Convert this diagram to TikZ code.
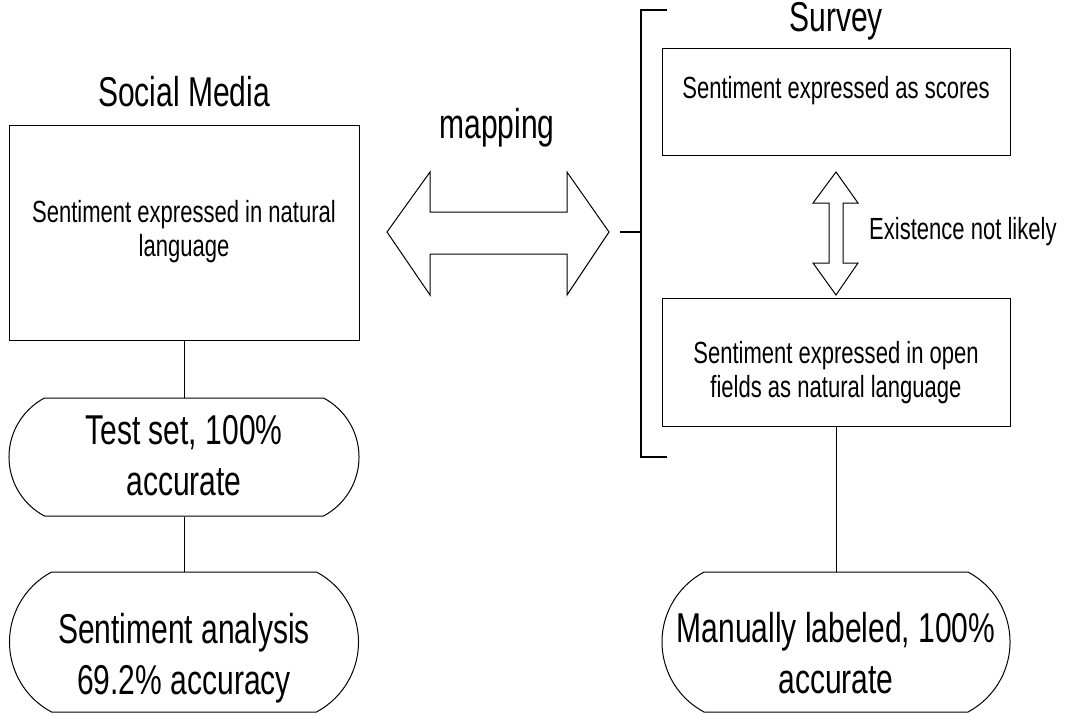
\documentclass[tikz,border=0pt]{standalone}
\usepackage{fontspec}
\setmainfont{Liberation Sans}[FakeStretch=0.72]
\usetikzlibrary{shapes.misc}

\tikzset{
  box/.style={draw, rectangle, line width=1pt, inner sep=0pt},
  pill/.style={draw, rounded rectangle, rounded rectangle arc length=124,
    line width=1pt, inner sep=0pt},
  big/.style={font=\fontsize{41.7}{51}\selectfont, align=center, inner sep=0pt},
  small/.style={font=\fontsize{30.6}{34.5}\selectfont, align=center, inner sep=0pt},
  link/.style={line width=1pt},
  blockarrow/.style={draw, line width=1pt, line join=miter},
  bracket/.style={line width=2.5pt}
}

\begin{document}
\begin{tikzpicture}[x=1pt, y=-1pt]
\useasboundingbox (0,0) rectangle (1075,715);

% ---- left column: social media ----
\node[big] (smtitle) at (184,91.5) {Social Media};
\node[box, minimum width=350pt, minimum height=215pt] (smbox) at (184,232.5) {};
\node[small] (smtext) at (184,231.5) {Sentiment expressed in natural\\language};
\node[pill, minimum width=350pt, minimum height=118pt] (test) at (184,457) {};
\node[big] (testtext) at (184,455.5) {Test set, 100\%\\accurate};
\node[pill, minimum width=349pt, minimum height=140pt] (sa) at (184,642) {};
\node[big] (satext) at (184,657.9) {Sentiment analysis\\69.2\% accuracy};

\draw[link] (smbox.south) -- (test.north);
\draw[link] (test.south) -- (sa.north);

% ---- mapping arrow ----
\node[big] (maplabel) at (497,127.4) {mapping};
\draw[blockarrow] (387,232) -- (430,172) -- (430,212) -- (567,212) -- (567,172)
  -- (609,232) -- (567,295) -- (567,254) -- (430,254) -- (430,295) -- cycle;

% ---- right column: survey ----
\coordinate (brtop) at (667,10);
\coordinate (brbot) at (667,457);
\coordinate (brmid) at (641,232);
\coordinate (brtick) at (620,232);
\draw[bracket] (brtop) -| (brmid) |- (brbot);
\draw[bracket] (brtick) -- (brmid);

\node[big] (svtitle) at (836,21.5) {Survey};
\node[box, minimum width=348pt, minimum height=107pt] (scores) at (836,101.5) {};
\node[small] (scorestext) at (836,90.2) {Sentiment expressed as scores};

\draw[blockarrow] (836,172) -- (858,203) -- (843,203) -- (843,263) -- (858,263)
  -- (836,295) -- (813,263) -- (829,263) -- (829,203) -- (813,203) -- cycle;
\node[small, anchor=west] (exist) at (869,232) {Existence not likely};

\node[box, minimum width=348pt, minimum height=128pt] (open) at (836,362) {};
\node[small] (opentext) at (836,372.5) {Sentiment expressed in open\\fields as natural language};

\node[pill, minimum width=348pt, minimum height=140pt] (manual) at (836,642) {};
\node[big] (manualtext) at (836,653.5) {Manually labeled, 100\%\\accurate};

\draw[link] (open.south) -- (manual.north);
\end{tikzpicture}
\end{document}
